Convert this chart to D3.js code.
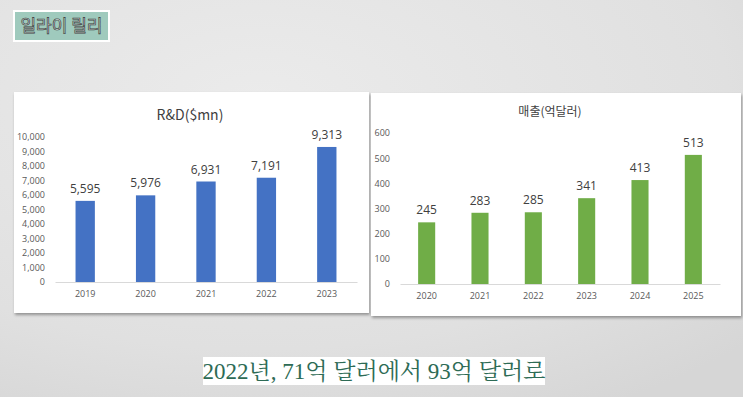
<!DOCTYPE html>
<html><head><meta charset="utf-8">
<script src="https://cdnjs.cloudflare.com/ajax/libs/d3/7.8.5/d3.min.js"></script>
<style>html,body{margin:0;padding:0;background:#d9d9d9;overflow:hidden}</style>
</head><body>
<svg id="c" width="743" height="397"></svg>
<script>
const rdYears = ["2019","2020","2021","2022","2023"];
const rdValues = [5595, 5976, 6931, 7191, 9313];
const rdTicks = [0,1000,2000,3000,4000,5000,6000,7000,8000,9000,10000];
const salesYears = ["2020","2021","2022","2023","2024","2025"];
const salesValues = [245, 283, 285, 341, 413, 513];
const salesTicks = [0,100,200,300,400,500,600];
const badgeText = "일라이 릴리";
const captionText = "2022년, 71억 달러에서 93억 달러로";
const rdTitle = "R&D($mn)";
const salesTitle = "매출(억달러)";

const svg = d3.select("#c");
const defs = svg.append("defs");
const g1 = defs.append("radialGradient").attr("id","bg1").attr("cx","35%").attr("cy","25%").attr("r","90%");
g1.append("stop").attr("offset","0%").attr("stop-color","#ebebeb");
g1.append("stop").attr("offset","70%").attr("stop-color","#e0e0e0");
g1.append("stop").attr("offset","100%").attr("stop-color","#d6d6d6");
svg.append("rect").attr("width",743).attr("height",397).attr("fill","url(#bg1)");
const f = defs.append("filter").attr("id","sh").attr("x","-5%").attr("y","-5%").attr("width","110%").attr("height","115%");
f.append("feDropShadow").attr("dx",1).attr("dy",2).attr("stdDeviation",1.5).attr("flood-color","#000").attr("flood-opacity",0.35);

// badge
svg.append("rect").attr("x",13).attr("y",10).attr("width",97).attr("height",32).attr("fill","#ffffff");
svg.append("rect").attr("x",15).attr("y",12).attr("width",93).attr("height",28).attr("fill","#9fcabd");
svg.append("text").attr("x",61.5).attr("y",32).attr("text-anchor","middle")
  .attr("font-family","Noto Sans CJK KR").attr("font-size",17).attr("fill","#d8e8e2")
  .attr("stroke","#3a3a3a").attr("stroke-width",0.7).text(badgeText);

function panel(o){
  const p = svg.append("g");
  p.append("rect").attr("x",o.x).attr("y",o.y).attr("width",o.w).attr("height",o.h)
    .attr("fill","#fff").attr("filter","url(#sh)");
  const x = d3.scaleBand().domain(o.cats).range([o.x0,o.x1]).paddingInner(o.pad).paddingOuter(o.pad/2);
  const y = d3.scaleLinear().domain([0,o.ticks[o.ticks.length-1]]).range([o.base,o.top]);
  const ya = d3.axisLeft(y).tickValues(o.ticks).tickSize(0).tickPadding(0).tickFormat(d3.format(","));
  const yg = p.append("g").attr("transform",`translate(${o.lx},0)`).call(ya);
  yg.select(".domain").remove();
  yg.selectAll("text").attr("font-family","Open Sans, Noto Sans").attr("font-size",9).attr("fill","#595959");
  p.selectAll(".bar").data(o.vals).enter().append("rect")
    .attr("x",(d,i)=>x(o.cats[i])).attr("width",x.bandwidth())
    .attr("y",d=>y(d)).attr("height",d=>o.base-y(d)).attr("fill",o.color);
  const xa = d3.axisBottom(x).tickSize(0).tickPadding(9);
  const xg = p.append("g").attr("transform",`translate(0,${o.base})`).call(xa);
  xg.select(".domain").attr("stroke","#d9d9d9").attr("stroke-width",1);
  xg.selectAll("text").attr("font-family","Open Sans, Noto Sans").attr("font-size",9).attr("fill","#595959");
  p.selectAll(".lbl").data(o.vals).enter().append("text")
    .attr("x",(d,i)=>x(o.cats[i])+x.bandwidth()/2).attr("y",d=>y(d)-8)
    .attr("text-anchor","middle").attr("font-family","Open Sans, Noto Sans").attr("font-size",12)
    .attr("fill","#404040").text(d=>d3.format(",")(d));
  p.append("text").attr("x",o.tx).attr("y",o.ty).attr("text-anchor","middle")
    .attr("font-family","Noto Sans CJK KR, Open Sans").attr("font-size",o.tfs).attr("fill","#404040").text(o.title);
}

panel({x:14,y:92,w:355,h:221,cats:rdYears,vals:rdValues,ticks:rdTicks,x0:55,x1:357,pad:0.68,
  base:282,top:137,lx:45,color:"#4472c4",title:rdTitle,tx:190,ty:120,tfs:14});
panel({x:371,y:93,w:370,h:223,cats:salesYears,vals:salesValues,ticks:salesTicks,x0:400,x1:720,pad:0.68,
  base:284,top:133,lx:390,color:"#70ad47",title:salesTitle,tx:550,ty:116,tfs:12});

// caption
svg.append("rect").attr("x",203).attr("y",357).attr("width",342).attr("height",28).attr("fill","#fff");
svg.append("text").attr("x",374).attr("y",379).attr("text-anchor","middle")
  .attr("font-family","Liberation Serif, Noto Serif CJK KR, Noto Sans CJK KR").attr("font-size",23)
  .attr("fill","#2d6b55").text(captionText);
</script>
</body></html>
